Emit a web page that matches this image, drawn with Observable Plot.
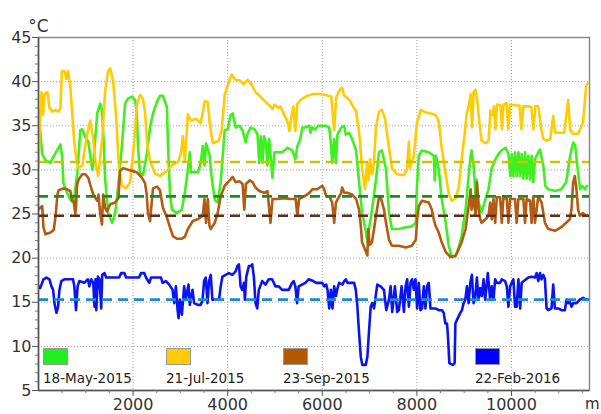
<!DOCTYPE html>
<html>
<head>
<meta charset="utf-8">
<script src="https://cdn.jsdelivr.net/npm/d3@7"></script>
<script src="https://cdn.jsdelivr.net/npm/@observablehq/plot@0.6"></script>
<style>
  html, body { margin: 0; padding: 0; background: #fff; }
  #wrap { position: relative; width: 601px; height: 414px; font-family: "DejaVu Sans", Verdana, sans-serif; }
  .lg { position: absolute; top: 348px; font-size: 13.5px; color: #222; line-height: 16px; }
  .lg .sw { width: 25px; height: 17px; border: 1px solid #999; box-sizing: border-box; }
  .lg .tx { margin-top: 5px; white-space: nowrap; }
</style>
</head>
<body>
<div id="wrap"></div>
<script>
// ---- data (distance in m, temperature in °C) ----
const seriesNames = ["18-May-2015", "21-Jul-2015", "23-Sep-2015", "22-Feb-2016"];
const seriesColors = ["#3ff01e", "#ffcc00", "#b45a12", "#0a14f0"];
const legendColors = ["#22ee22", "#ffcc00", "#b35900", "#0000ff"];
const meanValues = [27.0, 30.9, 24.8, 15.3];
const meanColors = ["#1f8a1f", "#c8c400", "#5a3216", "#1f88d0"];
const yTicks = [5, 10, 15, 20, 25, 30, 35, 40, 45];
const xTicks = [2000, 4000, 6000, 8000, 10000];

const may2015 = [[0,36.7],[78,31.8],[147,31.1],[253,30.8],[316,31.5],[400,32.3],[463,32.9],[499,31.6],[526,28.5],[604,27.4],[674,26.6],[737,26.3],[821,29.6],[884,34.5],[926,34.6],[989,33.7],[1053,33.2],[1095,31.6],[1137,30.0],[1164,31.1],[1242,36.4],[1305,37.5],[1341,36.8],[1374,33.7],[1410,28.9],[1474,25.1],[1558,24.0],[1621,25.1],[1684,28.1],[1768,33.0],[1831,37.5],[1895,38.1],[1979,38.3],[2042,37.9],[2077,36.7],[2105,32.6],[2147,29.6],[2210,29.4],[2295,31.9],[2358,34.8],[2421,36.4],[2505,37.7],[2568,38.4],[2631,38.4],[2715,37.1],[2737,33.0],[2779,27.4],[2821,25.5],[2926,25.1],[3031,25.5],[3094,27.4],[3158,30.0],[3200,32.0],[3227,29.7],[3305,29.8],[3368,29.7],[3431,30.8],[3473,32.7],[3509,30.5],[3543,33.0],[3621,31.6],[3648,29.7],[3726,26.6],[3789,26.3],[3852,28.6],[3937,34.5],[4000,34.6],[4063,36.2],[4105,36.4],[4168,34.8],[4252,35.0],[4315,34.5],[4379,33.1],[4421,34.1],[4484,34.8],[4568,34.6],[4631,34.0],[4667,30.8],[4701,33.8],[4736,30.8],[4772,33.8],[4806,33.2],[4842,30.5],[4877,33.5],[4947,29.1],[4989,32.0],[5052,32.0],[5157,32.0],[5263,32.5],[5368,32.2],[5431,31.2],[5473,32.7],[5536,33.5],[5578,34.8],[5642,34.8],[5726,35.0],[5753,34.2],[5789,34.8],[5852,34.6],[5915,35.0],[5999,35.0],[6084,35.0],[6147,34.8],[6182,33.1],[6210,30.8],[6252,33.5],[6288,30.8],[6322,34.0],[6399,34.8],[6463,35.0],[6498,34.0],[6568,34.2],[6631,33.5],[6715,32.2],[6778,28.6],[6841,25.2],[6925,22.9],[6953,21.8],[6989,23.3],[7052,25.5],[7136,28.9],[7199,32.0],[7262,32.2],[7347,30.1],[7410,25.2],[7473,23.3],[7620,23.3],[7768,23.5],[7894,23.6],[7978,24.0],[7999,27.8],[8041,31.6],[8104,32.2],[8252,32.0],[8357,31.6],[8378,28.8],[8406,31.6],[8462,30.1],[8525,26.7],[8610,24.0],[8673,21.4],[8736,20.2],[8820,20.2],[8883,21.2],[8946,22.5],[9030,25.5],[9094,29.3],[9136,31.6],[9157,32.2],[9199,30.5],[9241,27.0],[9262,28.9],[9305,26.3],[9368,25.2],[9452,26.7],[9515,27.8],[9578,30.1],[9662,31.2],[9725,31.8],[9789,32.2],[9873,32.5],[9936,31.8],[9978,29.3],[10005,31.8],[10041,29.3],[10076,32.0],[10110,29.3],[10147,32.0],[10183,29.3],[10216,31.8],[10252,29.0],[10287,32.0],[10321,29.0],[10357,31.6],[10393,28.9],[10426,31.6],[10462,28.6],[10497,31.2],[10567,32.0],[10603,32.3],[10673,30.5],[10715,28.2],[10778,27.8],[10925,27.6],[11051,27.8],[11157,28.6],[11241,31.6],[11304,33.1],[11346,32.8],[11409,29.7],[11452,27.8],[11494,28.2],[11557,27.8],[11599,28.2]];

const jul2015 = [[0,30.3],[30,35.5],[63,38.8],[95,36.2],[126,38.6],[158,38.7],[189,38.8],[232,37.0],[295,36.6],[358,36.8],[421,36.6],[463,37.0],[495,41.2],[547,41.2],[589,40.3],[621,41.2],[674,39.4],[716,36.1],[758,33.0],[800,31.3],[842,30.2],[926,30.5],[1010,33.5],[1095,35.6],[1158,33.5],[1200,31.0],[1263,29.3],[1347,33.5],[1410,39.0],[1474,41.2],[1516,41.5],[1579,40.0],[1642,36.0],[1705,30.0],[1768,28.2],[1852,27.9],[1937,28.6],[2021,33.0],[2084,37.5],[2147,38.5],[2210,38.0],[2252,36.5],[2295,33.2],[2358,31.0],[2463,29.6],[2568,29.3],[2694,29.8],[2821,30.5],[2947,30.9],[3010,31.8],[3052,33.8],[3094,31.0],[3158,36.3],[3221,35.6],[3326,35.8],[3431,35.3],[3515,37.8],[3579,37.7],[3621,35.2],[3684,33.0],[3810,33.3],[3873,34.5],[3937,38.5],[4000,39.6],[4084,40.8],[4168,40.2],[4273,40.1],[4336,39.7],[4421,40.2],[4505,39.7],[4589,38.8],[4673,38.4],[4800,37.7],[4884,37.3],[4947,36.9],[4989,37.4],[5073,37.0],[5115,37.2],[5200,36.2],[5263,35.5],[5305,34.4],[5347,36.0],[5389,37.2],[5431,34.4],[5473,37.5],[5557,38.0],[5684,38.4],[5810,38.6],[5936,38.6],[6063,38.5],[6189,38.3],[6252,34.5],[6294,38.2],[6357,39.0],[6420,39.3],[6463,38.4],[6568,38.0],[6652,37.2],[6715,36.6],[6778,34.3],[6841,30.3],[6904,27.8],[6947,30.8],[6978,28.8],[7010,31.2],[7052,29.5],[7094,31.0],[7136,34.9],[7199,36.6],[7262,36.8],[7326,35.8],[7410,32.5],[7473,30.2],[7578,29.5],[7726,29.4],[7789,30.0],[7831,33.2],[7852,30.2],[7936,31.6],[7999,35.3],[8083,36.8],[8188,36.5],[8294,36.4],[8399,36.2],[8462,35.5],[8525,32.5],[8610,29.5],[8673,27.3],[8736,26.5],[8820,26.8],[8883,28.0],[8946,31.2],[9010,34.0],[9052,36.3],[9094,37.2],[9136,38.6],[9168,34.8],[9199,38.8],[9241,39.1],[9283,37.5],[9325,35.2],[9368,33.3],[9452,33.0],[9515,33.3],[9557,36.7],[9599,36.2],[9631,37.2],[9662,34.6],[9694,37.4],[9768,37.3],[9799,34.6],[9831,37.4],[9894,37.6],[9936,34.6],[9968,37.4],[10105,37.3],[10168,37.3],[10210,34.6],[10252,37.2],[10357,37.2],[10420,37.1],[10462,34.6],[10504,37.2],[10567,37.2],[10631,34.6],[10673,33.5],[10736,33.3],[10820,33.5],[10883,36.1],[10925,34.2],[10988,34.2],[11115,34.2],[11199,37.9],[11241,34.5],[11304,34.1],[11409,34.1],[11515,35.4],[11578,39.5],[11610,39.8]];

const sep2015 = [[0,25.5],[78,25.9],[105,23.5],[147,22.7],[253,22.9],[322,23.2],[358,24.6],[400,27.2],[427,27.7],[526,27.9],[604,27.8],[674,27.6],[709,26.5],[743,26.5],[779,25.0],[800,26.5],[815,28.3],[848,28.9],[926,29.5],[989,29.5],[1053,29.1],[1095,28.3],[1158,27.2],[1242,26.5],[1269,27.2],[1305,25.0],[1341,23.8],[1368,27.2],[1410,25.7],[1446,25.3],[1516,26.1],[1621,26.3],[1690,26.8],[1726,29.9],[1789,30.2],[1901,30.0],[1979,29.9],[2084,29.7],[2189,29.1],[2252,28.5],[2288,27.2],[2316,25.0],[2358,24.2],[2421,27.9],[2505,28.1],[2568,27.7],[2631,25.7],[2715,24.6],[2779,23.5],[2842,22.5],[2926,22.2],[3031,22.2],[3094,22.4],[3158,23.3],[3263,24.2],[3368,24.4],[3473,24.8],[3509,26.7],[3543,24.0],[3579,26.7],[3614,23.7],[3642,23.3],[3726,24.0],[3789,25.1],[3852,27.0],[3937,28.2],[4042,28.8],[4105,29.2],[4168,28.6],[4252,28.7],[4315,28.4],[4351,25.5],[4385,28.4],[4463,28.8],[4526,28.6],[4589,28.0],[4667,27.6],[4778,27.4],[4842,27.6],[4905,24.0],[4947,26.7],[5052,26.7],[5200,26.8],[5326,26.7],[5437,26.7],[5473,24.8],[5509,26.7],[5620,27.0],[5726,27.4],[5789,27.8],[5894,27.8],[5999,28.2],[6041,27.8],[6084,27.0],[6147,27.0],[6210,26.3],[6252,24.0],[6288,26.3],[6399,27.4],[6420,28.0],[6463,27.4],[6526,27.4],[6631,27.2],[6715,26.7],[6778,25.5],[6814,23.7],[6841,21.8],[6925,20.7],[6953,20.3],[6974,23.3],[7003,21.5],[7052,21.8],[7136,24.8],[7199,26.9],[7241,26.8],[7305,25.5],[7347,24.0],[7410,22.1],[7473,21.4],[7620,21.4],[7768,21.2],[7894,21.4],[7978,22.1],[8005,24.4],[8041,25.9],[8104,26.5],[8252,26.3],[8315,25.5],[8357,24.4],[8392,23.7],[8462,22.9],[8525,21.8],[8610,20.7],[8715,20.1],[8820,20.3],[8883,21.0],[8946,21.8],[9030,23.3],[9094,25.9],[9136,27.8],[9157,25.5],[9199,27.0],[9241,24.8],[9269,28.6],[9305,25.5],[9340,24.4],[9368,24.0],[9452,24.4],[9515,24.8],[9550,26.3],[9584,24.4],[9620,26.7],[9655,24.0],[9690,26.9],[9761,26.9],[9795,24.0],[9831,26.9],[9901,26.7],[9936,24.0],[9971,26.7],[10076,26.7],[10110,24.0],[10147,26.7],[10252,26.7],[10287,24.0],[10321,26.7],[10393,26.5],[10426,24.0],[10462,27.0],[10497,24.0],[10567,27.0],[10637,26.3],[10708,24.0],[10778,23.3],[10925,23.1],[11051,23.5],[11157,24.0],[11234,24.4],[11269,25.5],[11304,28.6],[11340,29.3],[11374,27.8],[11409,25.5],[11445,24.8],[11515,25.1],[11578,24.8],[11610,24.8]];

const feb2016 = [[0,16.8],[35,16.6],[63,17.0],[105,17.6],[168,17.8],[232,17.6],[274,16.8],[309,16.4],[337,14.9],[379,13.8],[415,14.5],[442,16.4],[484,17.4],[547,17.6],[653,17.6],[730,17.6],[758,16.8],[793,14.1],[827,16.8],[863,17.4],[968,17.2],[1046,17.6],[1074,16.8],[1116,17.6],[1158,17.2],[1185,14.5],[1206,17.6],[1221,14.1],[1257,17.9],[1290,17.6],[1326,14.3],[1347,18.1],[1396,18.3],[1431,17.8],[1705,17.8],[1747,18.3],[1817,18.3],[1852,17.8],[2126,17.8],[2168,18.3],[2237,18.3],[2273,17.8],[2343,17.2],[2379,17.8],[2589,17.8],[2625,17.2],[2694,17.4],[2764,17.0],[2835,16.4],[2869,14.9],[2905,16.8],[2941,14.1],[2962,13.2],[2989,15.3],[3031,13.6],[3080,16.8],[3115,15.3],[3172,17.0],[3200,14.7],[3256,16.4],[3290,14.9],[3368,14.7],[3431,14.7],[3467,15.2],[3501,17.4],[3536,17.8],[3572,14.9],[3606,17.4],[3642,18.1],[3677,15.3],[3747,15.3],[3817,15.3],[3852,16.8],[3888,17.9],[3958,18.1],[4027,18.3],[4098,18.1],[4168,18.5],[4204,19.1],[4237,19.3],[4273,16.8],[4309,16.4],[4343,17.2],[4364,15.3],[4393,17.9],[4448,19.1],[4484,19.1],[4519,19.3],[4553,17.9],[4589,14.9],[4625,14.3],[4658,16.4],[4730,17.4],[4800,17.0],[4869,17.6],[4940,17.6],[4974,17.2],[5010,16.8],[5080,16.8],[5151,16.4],[5290,16.4],[5361,17.2],[5395,17.4],[5431,16.8],[5467,14.9],[5500,16.8],[5572,17.0],[5642,17.2],[5711,17.6],[5810,17.4],[5873,17.2],[5999,17.2],[6041,16.8],[6084,17.0],[6111,16.4],[6147,14.3],[6182,16.4],[6216,14.3],[6252,16.8],[6288,15.7],[6322,16.6],[6357,17.2],[6427,17.0],[6463,17.4],[6498,17.6],[6532,17.2],[6673,17.2],[6709,16.4],[6742,14.5],[6778,11.5],[6814,8.8],[6848,7.9],[6919,7.9],[6953,8.8],[6989,11.8],[7024,14.5],[7058,14.9],[7094,14.3],[7129,15.7],[7163,17.0],[7233,16.8],[7304,16.4],[7353,14.1],[7410,15.3],[7445,16.8],[7479,13.9],[7536,16.8],[7584,13.9],[7620,14.1],[7677,16.8],[7726,13.9],[7761,16.8],[7795,17.6],[7831,14.5],[7866,17.2],[7900,17.6],[7936,16.4],[7971,17.6],[8005,14.3],[8041,17.2],[8076,14.1],[8110,14.3],[8146,16.8],[8181,14.3],[8215,16.8],[8252,17.2],[8287,14.3],[8392,14.3],[8462,14.1],[8532,14.1],[8567,13.8],[8603,12.6],[8637,12.6],[8658,11.1],[8687,8.1],[8757,7.9],[8799,8.1],[8814,12.6],[8848,13.0],[8883,13.4],[8918,13.8],[8953,14.1],[8988,14.9],[9024,15.3],[9058,16.8],[9094,14.9],[9129,17.2],[9163,18.1],[9199,14.9],[9234,15.5],[9269,17.8],[9305,15.3],[9340,16.6],[9374,15.7],[9410,17.6],[9445,15.3],[9500,18.3],[9550,15.3],[9584,16.8],[9620,15.3],[9655,17.6],[9690,17.2],[9761,17.2],[9795,17.6],[9866,17.4],[9901,16.8],[9936,14.5],[9971,16.8],[10005,17.2],[10041,17.6],[10076,14.5],[10110,14.5],[10147,17.6],[10183,14.3],[10216,17.2],[10357,17.8],[10426,17.9],[10497,17.8],[10532,18.3],[10567,17.4],[10603,18.3],[10637,17.6],[10673,18.1],[10708,17.6],[10742,14.3],[10778,14.1],[10847,14.3],[10883,17.0],[10918,14.3],[10988,14.3],[11058,14.1],[11129,14.1],[11164,15.3],[11199,14.9],[11234,15.1],[11269,14.5],[11304,14.9],[11374,14.9],[11445,15.3],[11515,15.5],[11578,15.3],[11610,15.3]];

const allSeries = [may2015, jul2015, sep2015, feb2016];

// ---- build ----
const rows = allSeries.flatMap((s, i) => s.map(([m, t]) => ({series: seriesNames[i], m, t})));
const means = meanValues.map((v, i) => ({series: seriesNames[i], v}));
const minorY = d3.range(5, 46, 1).filter(v => v % 5 !== 0);
const minorX = d3.range(500, 11650, 500).filter(v => v % 2000 !== 0);
const font = "DejaVu Sans, Verdana, sans-serif";

const chart = Plot.plot({
  width: 601,
  height: 414,
  marginLeft: 38,
  marginRight: 12,
  marginTop: 37,
  marginBottom: 24,
  style: {fontFamily: font, fontSize: "16px", color: "#333", background: "#fff"},
  x: {domain: [0, 11650]},
  y: {domain: [5, 45]},
  color: {domain: seriesNames, range: seriesColors},
  marks: [
    Plot.gridX(xTicks, {stroke: "#999", strokeOpacity: 0.9, strokeDasharray: "1,2"}),
    Plot.gridY(yTicks.slice(1, -1), {stroke: "#999", strokeOpacity: 0.9, strokeDasharray: "1,2"}),
    Plot.frame({stroke: "#8a8a8a", strokeWidth: 1.5}),
    Plot.line(rows, {x: "m", y: "t", z: "series", stroke: "series", strokeWidth: 2.6, curve: "linear", clip: true}),
    Plot.ruleY(means, {y: "v", stroke: (d, i) => meanColors[i], strokeWidth: 2.6, strokeDasharray: "10,6"}),
    Plot.ruleX([0], {stroke: "#555", strokeWidth: 1.5}),
    Plot.ruleY([5], {stroke: "#555", strokeWidth: 1.5}),
    Plot.axisY(yTicks, {tickSize: 6, tickPadding: 1, stroke: "#555", label: null, fontSize: 16, fill: "#333", tickFormat: d3.format("d")}),
    Plot.axisY(minorY, {tickSize: 3, text: null, stroke: "#777", label: null}),
    Plot.axisX(xTicks, {tickSize: 6, tickPadding: 2, stroke: "#555", label: null, fontSize: 16, fill: "#333", tickFormat: d3.format("d")}),
    Plot.axisX(minorX, {tickSize: 3, text: null, stroke: "#777", label: null}),
    Plot.text(["°C"], {frameAnchor: "top-left", dy: -18, dx: 0, fontSize: 17, fill: "#333", textAnchor: "middle"}),
    Plot.text(["m"], {frameAnchor: "bottom-right", lineAnchor: "top", dy: 8, dx: 10, fontSize: 15, fill: "#333", textAnchor: "end"})
  ]
});

const wrap = document.getElementById("wrap");
wrap.appendChild(chart);

// legend inside plot area
const legendLeft = [43, 166, 283, 475];
seriesNames.forEach((name, i) => {
  const item = document.createElement("div");
  item.className = "lg";
  item.style.left = legendLeft[i] + "px";
  item.innerHTML = `<div class="sw" style="background:${legendColors[i]}"></div><div class="tx">${name}</div>`;
  wrap.appendChild(item);
});
</script>
</body>
</html>
